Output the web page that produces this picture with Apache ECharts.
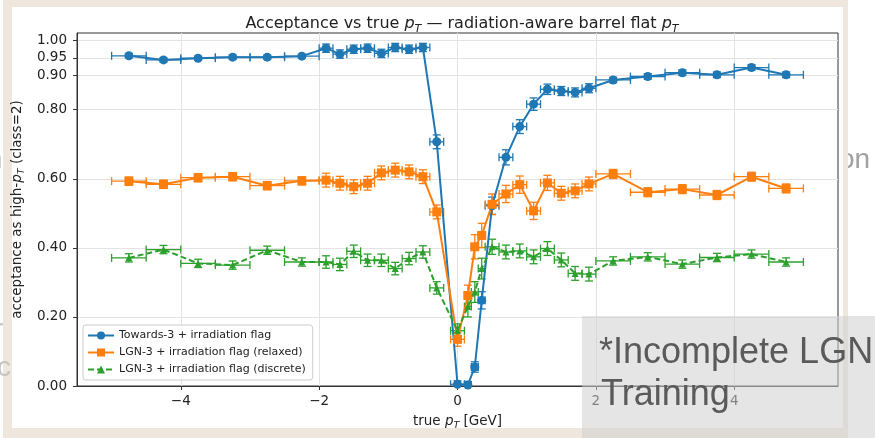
<!DOCTYPE html>
<html>
<head>
<meta charset="utf-8">
<script src="https://cdn.jsdelivr.net/npm/echarts@6/dist/echarts.min.js"></script>
<style>
  html, body { margin: 0; padding: 0; background: #fff; }
  #chart { width: 875px; height: 438px; }
</style>
</head>
<body>
<div id="chart"></div>
<script>
// bin centres (true pT, GeV) and half widths
var ptBins = [-4.75, -4.25, -3.75, -3.25, -2.75, -2.25,
  -1.9, -1.7, -1.5, -1.3, -1.1, -0.9, -0.7, -0.5, -0.3,
  0, 0.15, 0.25, 0.35,
  0.5, 0.7, 0.9, 1.1, 1.3, 1.5, 1.7, 1.9,
  2.25, 2.75, 3.25, 3.75, 4.25, 4.75];
var binHalf = [0.25, 0.25, 0.25, 0.25, 0.25, 0.25,
  0.1, 0.1, 0.1, 0.1, 0.1, 0.1, 0.1, 0.1, 0.1,
  0.1, 0.05, 0.05, 0.05,
  0.1, 0.1, 0.1, 0.1, 0.1, 0.1, 0.1, 0.1,
  0.25, 0.25, 0.25, 0.25, 0.25, 0.25];

var towardsAcc = [0.956, 0.944, 0.949, 0.952, 0.952, 0.955,
  0.978, 0.961, 0.975, 0.978, 0.963, 0.980, 0.975, 0.980, 0.707,
  0.005, 0.003, 0.055, 0.248,
  0.522, 0.662, 0.751, 0.816, 0.859, 0.854, 0.850, 0.862,
  0.886, 0.896, 0.907, 0.901, 0.922, 0.901];
var towardsErr = [0.006, 0.006, 0.006, 0.006, 0.006, 0.006,
  0.012, 0.012, 0.012, 0.012, 0.012, 0.012, 0.012, 0.012, 0.02,
  0.01, 0.01, 0.015, 0.025,
  0.025, 0.022, 0.02, 0.018, 0.015, 0.013, 0.013, 0.013,
  0.008, 0.008, 0.008, 0.008, 0.008, 0.008];

var relaxedAcc = [0.593, 0.584, 0.603, 0.606, 0.580, 0.594,
  0.596, 0.587, 0.577, 0.587, 0.617, 0.625, 0.620, 0.606, 0.504,
  0.135, 0.262, 0.403, 0.436,
  0.526, 0.556, 0.583, 0.507, 0.588, 0.558, 0.565, 0.585,
  0.614, 0.561, 0.570, 0.553, 0.606, 0.572];
var relaxedErr = [0.012, 0.012, 0.012, 0.012, 0.012, 0.012,
  0.02, 0.02, 0.02, 0.02, 0.02, 0.02, 0.02, 0.02, 0.02,
  0.02, 0.03, 0.035, 0.035,
  0.03, 0.025, 0.025, 0.025, 0.022, 0.02, 0.02, 0.02,
  0.013, 0.013, 0.013, 0.013, 0.013, 0.013];

var discreteAcc = [0.371, 0.395, 0.355, 0.350, 0.393, 0.359,
  0.359, 0.352, 0.390, 0.364, 0.364, 0.340, 0.369, 0.388, 0.284,
  0.160, 0.230, 0.272, 0.340,
  0.403, 0.388, 0.391, 0.374, 0.398, 0.365, 0.326, 0.324,
  0.362, 0.374, 0.353, 0.372, 0.382, 0.359];
var discreteErr = [0.012, 0.012, 0.012, 0.012, 0.012, 0.012,
  0.018, 0.018, 0.018, 0.018, 0.018, 0.018, 0.018, 0.018, 0.018,
  0.02, 0.03, 0.03, 0.03,
  0.022, 0.02, 0.02, 0.02, 0.02, 0.02, 0.02, 0.02,
  0.012, 0.012, 0.012, 0.012, 0.012, 0.012];

var seriesNames = ['Towards-3 + irradiation flag',
  'LGN-3 + irradiation flag (relaxed)',
  'LGN-3 + irradiation flag (discrete)'];
var xTicks = [-4, -2, 0, 2, 4];
var yTicks = [0, 0.2, 0.4, 0.6, 0.8, 0.9, 0.95, 1.0];

var FONT = 'DejaVu Sans';
var colors = ['#1f77b4', '#ff7f0e', '#2ca02c'];

function pts(acc) {
  return ptBins.map(function (x, i) { return [x, acc[i]]; });
}
function errPts(acc, err) {
  return ptBins.map(function (x, i) { return [x, acc[i], binHalf[i], err[i]]; });
}

function errRender(color) {
  return function (params, api) {
    var x = api.value(0), y = api.value(1), xe = api.value(2), ye = api.value(3);
    var l = api.coord([x - xe, y]), r = api.coord([x + xe, y]);
    var b = api.coord([x, y - ye]), t = api.coord([x, y + ye]);
    var c = 4;
    var st = { stroke: color, lineWidth: 1.3 };
    return {
      type: 'group',
      children: [
        { type: 'line', shape: { x1: l[0], y1: l[1], x2: r[0], y2: r[1] }, style: st },
        { type: 'line', shape: { x1: l[0], y1: l[1] - c, x2: l[0], y2: l[1] + c }, style: st },
        { type: 'line', shape: { x1: r[0], y1: r[1] - c, x2: r[0], y2: r[1] + c }, style: st },
        { type: 'line', shape: { x1: b[0], y1: b[1], x2: t[0], y2: t[1] }, style: st },
        { type: 'line', shape: { x1: b[0] - c, y1: b[1], x2: b[0] + c, y2: b[1] }, style: st },
        { type: 'line', shape: { x1: t[0] - c, y1: t[1], x2: t[0] + c, y2: t[1] }, style: st }
      ]
    };
  };
}

var subRich = function (size, sub) {
  return {
    i: { fontFamily: FONT, fontStyle: 'italic', fontSize: size, color: '#222' },
    s: { fontFamily: FONT, fontStyle: 'italic', fontSize: sub, lineHeight: sub, verticalAlign: 'bottom', color: '#222' }
  };
};

var chart = echarts.init(document.getElementById('chart'));

var option = {
  backgroundColor: '#ffffff',
  animation: false,
  title: {
    text: 'Acceptance vs true {i|p}{s|T} \u2014 radiation-aware barrel flat {i|p}{s|T}',
    left: 457,
    textAlign: 'center',
    top: 8,
    textStyle: {
      fontFamily: FONT, fontSize: 16, fontWeight: 'normal', color: '#222', lineHeight: 22,
      rich: subRich(16, 11)
    }
  },
  grid: {
    left: 77, right: 37, top: 33, bottom: 52,
    show: true, borderColor: '#333', borderWidth: 1, backgroundColor: '#fff'
  },
  legend: {
    orient: 'vertical',
    left: 83, top: 325,
    data: seriesNames,
    backgroundColor: 'rgba(255,255,255,0.85)',
    borderColor: '#cccccc', borderWidth: 1, borderRadius: 3,
    padding: [5, 7, 5, 4],
    itemWidth: 26, itemHeight: 10, itemGap: 6,
    textStyle: { fontFamily: FONT, fontSize: 11, color: '#222' }
  },
  xAxis: {
    type: 'value', min: -5.5, max: 5.5,
    name: 'true {i|p}{s|T} [GeV]',
    nameLocation: 'middle', nameGap: 24,
    nameTextStyle: { fontFamily: FONT, fontSize: 13.5, color: '#222', lineHeight: 18, rich: subRich(13.5, 9.5) },
    axisLine: { onZero: false, lineStyle: { color: '#333', width: 1 } },
    axisTick: { customValues: xTicks, length: 4, lineStyle: { color: '#333' } },
    axisLabel: {
      customValues: xTicks, margin: 8,
      fontFamily: FONT, fontSize: 13.5, color: '#222',
      formatter: function (v) { return v < 0 ? '\u2212' + Math.abs(v) : String(v); }
    },
    splitLine: { show: true, lineStyle: { color: '#e3e3e3', width: 1 } }
  },
  yAxis: {
    type: 'value', min: 0, max: 1.022,
    name: 'acceptance as high-{i|p}{s|T} (class=2)',
    nameLocation: 'middle', nameGap: 48,
    nameTextStyle: { fontFamily: FONT, fontSize: 13.5, color: '#222', lineHeight: 18, rich: subRich(13.5, 9.5) },
    axisLine: { show: true, onZero: false, lineStyle: { color: '#333', width: 1 } },
    axisTick: { show: true, customValues: yTicks, length: 4, lineStyle: { color: '#333' } },
    axisLabel: {
      customValues: yTicks, margin: 10,
      fontFamily: FONT, fontSize: 13.5, color: '#222',
      formatter: function (v) { return v.toFixed(2); }
    },
    splitLine: { show: true, lineStyle: { color: '#e3e3e3', width: 1 } }
  },
  series: [
    { name: 'errTowards', type: 'custom', clip: true, renderItem: errRender(colors[0]),
      encode: { x: 0, y: 1 }, data: errPts(towardsAcc, towardsErr), silent: true },
    { name: seriesNames[0], type: 'line', data: pts(towardsAcc), color: colors[0],
      symbol: 'circle', symbolSize: 9, showAllSymbol: true,
      lineStyle: { width: 2, color: colors[0] }, itemStyle: { color: colors[0] } },
    { name: 'errRelaxed', type: 'custom', clip: true, renderItem: errRender(colors[1]),
      encode: { x: 0, y: 1 }, data: errPts(relaxedAcc, relaxedErr), silent: true },
    { name: seriesNames[1], type: 'line', data: pts(relaxedAcc), color: colors[1],
      symbol: 'rect', symbolSize: 9, showAllSymbol: true,
      lineStyle: { width: 2, color: colors[1] }, itemStyle: { color: colors[1] } },
    { name: 'errDiscrete', type: 'custom', clip: true, renderItem: errRender(colors[2]),
      encode: { x: 0, y: 1 }, data: errPts(discreteAcc, discreteErr), silent: true },
    { name: seriesNames[2], type: 'line', data: pts(discreteAcc), color: colors[2],
      symbol: 'triangle', symbolSize: 7, showAllSymbol: true,
      lineStyle: { width: 2, type: [6, 3], color: colors[2] }, itemStyle: { color: colors[2] } }
  ],
  graphic: [
    // slide text peeking out behind the pasted figure
    { type: 'text', z: -20, style: { text: 'on', x: 839, y: 160, verticalAlign: 'middle',
      font: '28px "Liberation Sans"', fill: '#a0a0a0' } },
    // figure frame
    { type: 'rect', z: -10, shape: { x: 3, y: 0, width: 845, height: 438 }, style: { fill: '#efe6dd' } },
    { type: 'rect', z: -9, shape: { x: 12, y: 7, width: 831, height: 421 }, style: { fill: '#ffffff' } },
    { type: 'text', z: -5, style: { text: 'n', x: -13, y: 160, verticalAlign: 'middle',
      font: '28px "Liberation Sans"', fill: '#c4c4c4' } },
    { type: 'text', z: -5, style: { text: 'r', x: -6, y: 330, verticalAlign: 'middle',
      font: '28px "Liberation Sans"', fill: '#c4c4c4' } },
    { type: 'text', z: -5, style: { text: 'c', x: -3, y: 368, verticalAlign: 'middle',
      font: '28px "Liberation Sans"', fill: '#c4c4c4' } },
    // note box on top
    { type: 'rect', z: 50, shape: { x: 582, y: 316, width: 300, height: 130 },
      style: { fill: 'rgba(208,208,208,0.55)' } },
    { type: 'text', z: 51, style: { text: '*Incomplete LGN', x: 599, y: 371, verticalAlign: 'bottom',
      font: '36px "Liberation Sans"', fill: '#5a5a5a' } },
    { type: 'text', z: 51, style: { text: 'Training', x: 601, y: 413, verticalAlign: 'bottom',
      font: '36px "Liberation Sans"', fill: '#5a5a5a' } }
  ]
};

chart.setOption(option);
</script>
</body>
</html>
